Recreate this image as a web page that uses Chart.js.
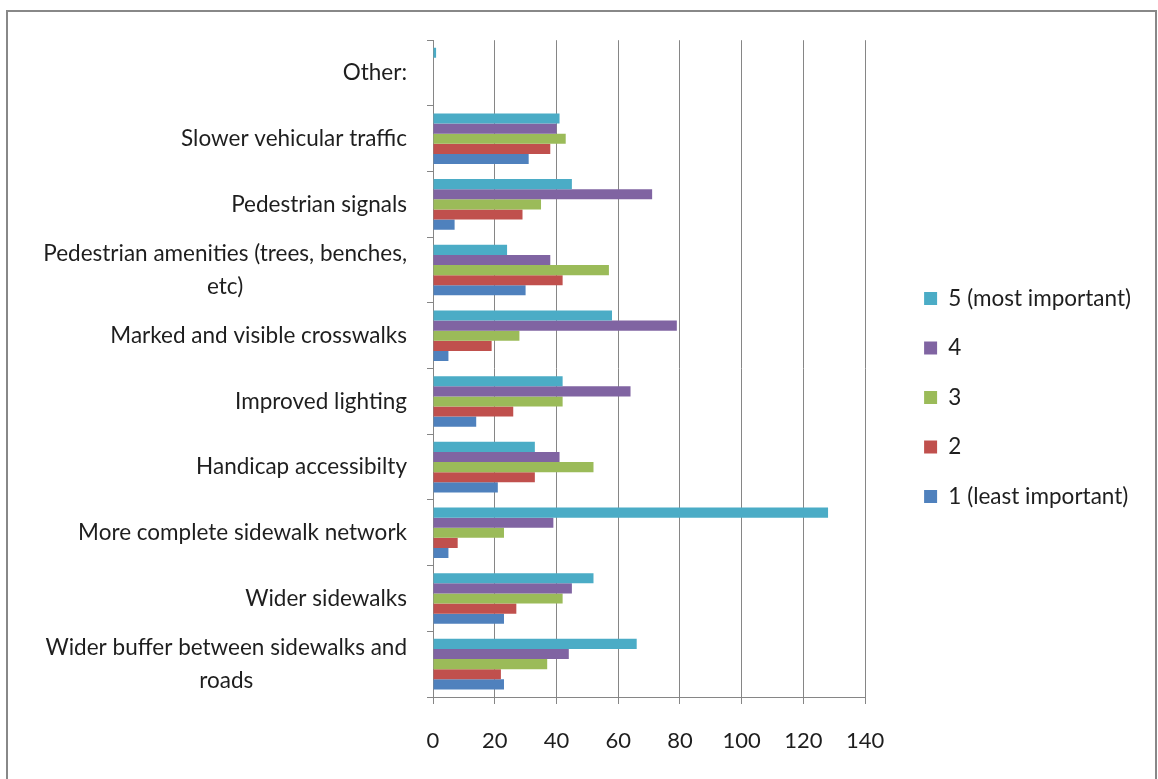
<!DOCTYPE html>
<html>
<head>
<meta charset="utf-8">
<title>Pedestrian improvements</title>
<script src="https://cdn.jsdelivr.net/npm/chart.js@4/dist/chart.umd.min.js"></script>
<style>
    html, body { margin: 0; padding: 0; background: #fff; overflow: hidden; }
    .frame {
        position: absolute;
        left: 6px;
        top: 10px;
        width: 1147px;
        height: 800px;
        border: 2px solid #888;
    }
    .chart-box {
        position: absolute;
        left: 8px;
        top: 12px;
        width: 1147px;
        height: 767px;
    }
</style>
</head>
<body>
<div class="frame"></div>
<div class="chart-box"><canvas id="ratingChart"></canvas></div>
<script>
// Categories, top to bottom (wrapped ones are split in two lines)
const categories = [
    'Other:',
    'Slower vehicular traffic',
    'Pedestrian signals',
    ['Pedestrian amenities (trees, benches,', 'etc)'],
    'Marked and visible crosswalks',
    'Improved lighting',
    'Handicap accessibilty',
    'More complete sidewalk network',
    'Wider sidewalks',
    ['Wider buffer between sidewalks and', 'roads']
];

// Number of responses per rating
const rating5 = [1, 41, 45, 24, 58, 42, 33, 128, 52, 66];
const rating4 = [0, 40, 71, 38, 79, 64, 41, 39, 45, 44];
const rating3 = [0, 43, 35, 57, 28, 42, 52, 23, 42, 37];
const rating2 = [0, 38, 29, 42, 19, 26, 33, 8, 27, 22];
const rating1 = [0, 31, 7, 30, 5, 14, 21, 5, 23, 23];

const seriesNames = ['5 (most important)', '4', '3', '2', '1 (least important)'];
const xTicks = [0, 20, 40, 60, 80, 100, 120, 140];

document.addEventListener('DOMContentLoaded', function() {
    const fontFamily = 'Lato, "Open Sans", sans-serif';
    const textColor = '#1e1e1e';
    const lineColor = '#868686';

    // Draws the category labels: right aligned, wrapped lines centred on each other
    const categoryLabels = {
        id: 'categoryLabels',
        afterDraw(chart) {
            const ctx = chart.ctx;
            const yScale = chart.scales.y;
            const rightEdge = chart.chartArea.left - 26;
            const lineHeight = 33;
            ctx.save();
            ctx.font = '22.5px ' + fontFamily;
            ctx.fillStyle = textColor;
            ctx.textAlign = 'center';
            ctx.textBaseline = 'middle';
            categories.forEach(function(label, i) {
                const lines = Array.isArray(label) ? label : [label];
                const blockWidth = Math.max.apply(null, lines.map(l => ctx.measureText(l).width));
                const centerX = rightEdge - blockWidth / 2;
                const centerY = yScale.getPixelForTick(i);
                lines.forEach(function(line, j) {
                    ctx.fillText(line, centerX, centerY + (j - (lines.length - 1) / 2) * lineHeight);
                });
            });
            ctx.restore();
        }
    };

    const ctx = document.getElementById('ratingChart');
    new Chart(ctx, {
        type: 'bar',
        data: {
            labels: categories,
            datasets: [
                { label: seriesNames[0], data: rating5, backgroundColor: '#4BACC6' },
                { label: seriesNames[1], data: rating4, backgroundColor: '#8064A2' },
                { label: seriesNames[2], data: rating3, backgroundColor: '#9BBB59' },
                { label: seriesNames[3], data: rating2, backgroundColor: '#C0504D' },
                { label: seriesNames[4], data: rating1, backgroundColor: '#4F81BD' }
            ]
        },
        options: {
            indexAxis: 'y',
            responsive: true,
            maintainAspectRatio: false,
            animation: false,
            categoryPercentage: 0.77,
            barPercentage: 1.0,
            layout: { padding: { top: 28, right: 14, bottom: 24, left: 0 } },
            scales: {
                x: {
                    min: 0,
                    max: 140,
                    afterBuildTicks: function(scale) {
                        scale.ticks = xTicks.map(v => ({ value: v }));
                    },
                    afterFit: function(scale) { scale.height = 58; },
                    grid: { color: lineColor, lineWidth: 1, tickLength: 7 },
                    border: { color: lineColor, width: 1 },
                    ticks: {
                        padding: 24,
                        color: textColor,
                        font: { family: fontFamily, size: 22 }
                    }
                },
                y: {
                    afterFit: function(scale) { scale.width = 425; },
                    grid: { drawOnChartArea: false, color: lineColor, tickLength: 6 },
                    border: { color: lineColor, width: 1 },
                    ticks: { color: 'rgba(0,0,0,0)', font: { family: fontFamily, size: 21 } }
                },
                // empty spacer between the plot and the legend
                gap: {
                    type: 'linear',
                    axis: 'y',
                    position: 'right',
                    afterFit: function(scale) { scale.width = 32; },
                    grid: { display: false },
                    border: { display: false },
                    ticks: { display: false }
                }
            },
            plugins: {
                legend: {
                    position: 'right',
                    maxWidth: 320,
                    labels: {
                        boxWidth: 13,
                        boxHeight: 13,
                        padding: 27,
                        color: textColor,
                        font: { family: fontFamily, size: 22.5 }
                    }
                },
                tooltip: { enabled: false }
            }
        },
        plugins: [categoryLabels]
    });
});
</script>
</body>
</html>
